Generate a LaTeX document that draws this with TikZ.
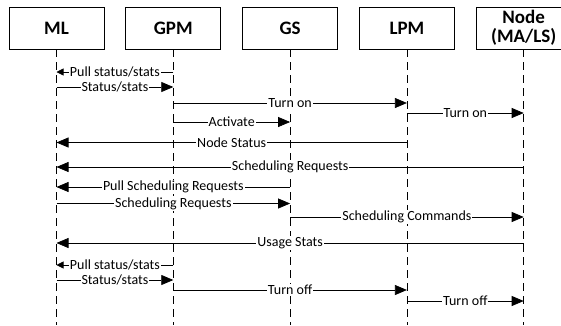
\documentclass[tikz,border=0pt]{standalone}
\usepackage{fontspec}
\setmainfont{Carlito}
\usetikzlibrary{positioning,arrows.meta}

\begin{document}
\begin{tikzpicture}[x=1pt,y=-1pt,node distance=21pt,
  actor/.style={draw,line width=0.8pt,minimum width=95pt,minimum height=42pt,
    inner sep=1pt,align=center,font=\fontsize{19}{19}\selectfont\bfseries},
  life/.style={line width=0.8pt,dash pattern=on 8pt off 5pt},
  msg/.style={line width=0.7pt,-{Triangle[length=12pt,width=10pt]}},
  pull/.style={line width=0.7pt,-{Triangle[length=7pt,width=7pt]}},
  lbl/.style={fill=white,inner sep=1pt,font=\fontsize{14}{15}\selectfont}]

  \useasboundingbox (0,0) rectangle (561,325);

  % the five parties
  \node[actor] (ml) at (56.5,28) {ML};
  \node[actor] (gpm) [right=of ml] {GPM};
  \node[actor] (gs) [right=of gpm] {GS};
  \node[actor] (lpm) [right=of gs] {LPM};
  \node[actor] (mals) [right=of lpm] {Node\\(MA/LS)};

  % lifelines
  \coordinate (bot) at (0,325);
  \foreach \p in {ml,gpm,gs,lpm,mals}
    \draw[life] (\p) -- (\p |- bot);

  % messages
  \draw[pull] (gpm |- 0,72) -- node[lbl] {Pull status/stats} (ml |- 0,72);
  \draw[msg] (ml |- 0,87) -- node[lbl] {Status/stats} (gpm |- 0,87);
  \draw[msg] (gpm |- 0,103) -- node[lbl] {Turn on} (lpm |- 0,103);
  \draw[msg] (lpm |- 0,113) -- node[lbl] {Turn on} (mals |- 0,113);
  \draw[msg] (gpm |- 0,122) -- node[lbl] {Activate} (gs |- 0,122);
  \draw[msg] (lpm |- 0,142.5) -- node[lbl] {Node Status} (ml |- 0,142.5);
  \draw[msg] (mals |- 0,167) -- node[lbl] {Scheduling Requests} (ml |- 0,167);
  \draw[msg] (gs |- 0,187) -- node[lbl] {Pull Scheduling Requests} (ml |- 0,187);
  \draw[msg] (ml |- 0,203.5) -- node[lbl] {Scheduling Requests} (gs |- 0,203.5);
  \draw[msg] (gs |- 0,217) -- node[lbl] {Scheduling Commands} (mals |- 0,217);
  \draw[msg] (mals |- 0,243) -- node[lbl] {Usage Stats} (ml |- 0,243);
  \draw[pull] (gpm |- 0,265) -- node[lbl] {Pull status/stats} (ml |- 0,265);
  \draw[msg] (ml |- 0,280) -- node[lbl] {Status/stats} (gpm |- 0,280);
  \draw[msg] (gpm |- 0,290) -- node[lbl] {Turn off} (lpm |- 0,290);
  \draw[msg] (lpm |- 0,301) -- node[lbl] {Turn off} (mals |- 0,301);
\end{tikzpicture}
\end{document}
